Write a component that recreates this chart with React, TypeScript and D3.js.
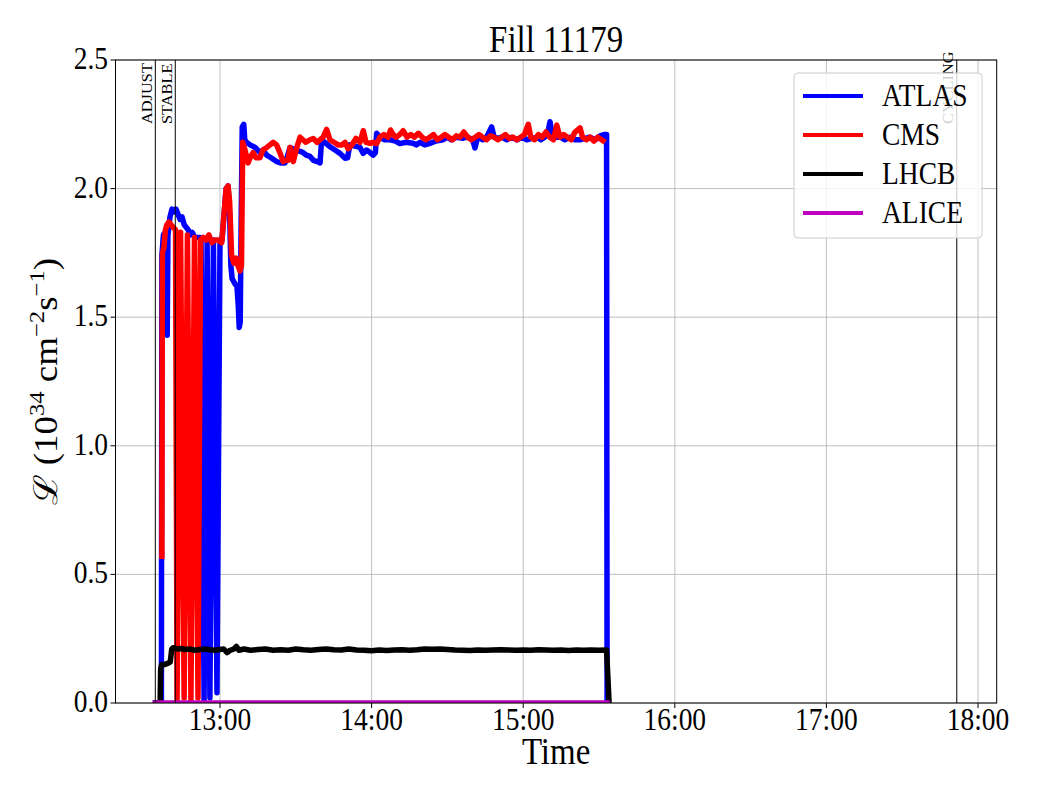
import React from 'react';
import * as d3 from 'd3';

// time in minutes after 12:00, luminosity in 1e34 cm^-2 s^-1
const atlas: [number, number][] = [
  [33.4, 0], [36.8, 0], [37.0, 1.74], [37.6, 1.82], [38.3, 1.83], [38.8, 1.6], [39.1, 1.43], [39.4, 1.82],
  [40.2, 1.89], [41.0, 1.92], [41.8, 1.91], [42.6, 1.92], [43.4, 1.9], [44.2, 1.88], [45.0, 1.89], [45.8, 1.86],
  [46.6, 1.85], [47.4, 1.84], [48.2, 1.82], [49.0, 1.83], [50.0, 1.81], [51.0, 1.81], [52.1, 1.81], [52.5, 1.8],
  [53.7, 0.01], [54.9, 1.8], [56.0, 0.02], [57.4, 1.8], [58.8, 0.04], [60.0, 1.8], [60.8, 1.8], [61.6, 1.9],
  [62.4, 2.0], [63.2, 2.01],
  [63.8, 1.9], [64.3, 1.7], [64.8, 1.65], [65.9, 1.63], [66.7, 1.62], [67.2, 1.55], [67.6, 1.46], [68.0, 1.48],
  [68.4, 1.9], [68.8, 2.24], [69.4, 2.25], [69.8, 2.19], [70.5, 2.18], [71.9, 2.17], [73.9, 2.16], [75.8, 2.14],
  [77.0, 2.15], [78.5, 2.13], [80.2, 2.12], [82.4, 2.105], [84.0, 2.1], [85.7, 2.1], [86.5, 2.12], [87.7, 2.16],
  [89.7, 2.15], [91.7, 2.145], [92.8, 2.14], [94.2, 2.13], [95.6, 2.125], [97.0, 2.11], [98.5, 2.105], [99.6, 2.1],
  [100.2, 2.19], [101.5, 2.18], [103.5, 2.163], [105.5, 2.15], [107.5, 2.137], [109.5, 2.118], [110.5, 2.12],
  [111.4, 2.17], [113.4, 2.165], [115.4, 2.16], [116.7, 2.137], [118.0, 2.15], [119.4, 2.14], [120.6, 2.13],
  [121.5, 2.14], [122.0, 2.215], [123.3, 2.2], [125.0, 2.19], [127.3, 2.19], [129.5, 2.185], [131.2, 2.175],
  [133.5, 2.18], [136.4, 2.176], [137.8, 2.17], [139.2, 2.18], [141.0, 2.17], [143.1, 2.176], [145.5, 2.185],
  [148.3, 2.19], [150.0, 2.2], [151.5, 2.19], [153.5, 2.2], [156.2, 2.196], [158.0, 2.2], [160.0, 2.19],
  [160.9, 2.158], [162.0, 2.2], [164.0, 2.19], [165.5, 2.2], [167.5, 2.24], [168.5, 2.2], [170.0, 2.195],
  [171.5, 2.2], [173.5, 2.19], [175.5, 2.2], [177.5, 2.19], [179.5, 2.2], [181.4, 2.19], [183.5, 2.195],
  [185.5, 2.2], [187.0, 2.19], [188.5, 2.2], [190.0, 2.23], [190.6, 2.26], [191.5, 2.21], [193.0, 2.2],
  [194.6, 2.2], [196.5, 2.19], [198.5, 2.2], [200.5, 2.19], [202.5, 2.19], [204.5, 2.195], [206.4, 2.2],
  [208.5, 2.19], [210.4, 2.205], [212.0, 2.21], [213.0, 2.21], [213.2, 0],
];

const cms: [number, number][] = [
  [37.0, 0.56], [37.2, 1.75], [37.8, 1.77], [38.4, 1.84], [39.0, 1.86], [39.8, 1.87], [40.6, 1.86], [41.4, 1.85],
  [42.4, 1.84], [43.0, 0.01], [44.4, 1.83], [45.8, 0.02], [47.1, 1.82], [48.5, 0.01], [49.9, 1.81], [51.3, 0.02],
  [52.3, 1.8], [53.3, 1.81], [54.5, 1.8], [55.6, 1.82], [56.8, 1.79],
  [58.0, 1.8], [59.2, 1.8], [60.7, 1.79], [61.6, 1.9], [62.4, 2.0], [63.2, 2.01], [63.8, 1.95], [64.6, 1.74],
  [65.5, 1.71], [66.3, 1.73], [67.1, 1.7], [67.9, 1.68], [68.5, 1.7], [69.0, 2.18], [69.9, 2.15], [71.1, 2.1],
  [71.9, 2.12], [73.1, 2.14], [74.2, 2.12], [75.8, 2.12], [77.0, 2.15], [78.5, 2.16], [79.8, 2.17], [81.0, 2.18],
  [82.4, 2.17], [83.7, 2.14], [85.0, 2.105], [86.1, 2.11], [87.0, 2.11], [87.7, 2.16], [88.3, 2.14], [89.0, 2.105],
  [90.4, 2.16], [91.7, 2.2], [92.8, 2.19], [94.0, 2.18], [95.6, 2.19], [96.9, 2.195], [98.4, 2.18], [99.6, 2.19],
  [100.8, 2.2], [102.2, 2.23], [103.5, 2.19], [105.1, 2.18], [106.7, 2.17], [108.3, 2.17], [109.5, 2.18],
  [110.7, 2.155], [112.2, 2.17], [113.8, 2.195], [115.4, 2.18], [116.7, 2.225], [117.8, 2.18], [119.4, 2.176],
  [120.6, 2.18], [122.0, 2.175], [123.3, 2.2], [124.9, 2.21], [126.5, 2.2], [127.5, 2.228], [128.5, 2.21],
  [129.7, 2.2], [131.2, 2.21], [132.5, 2.225], [134.0, 2.2], [135.5, 2.21], [137.0, 2.2], [138.5, 2.215],
  [140.0, 2.2], [141.5, 2.19], [143.0, 2.2], [144.5, 2.21], [146.0, 2.19], [147.5, 2.2], [149.0, 2.21],
  [150.5, 2.2], [152.0, 2.19], [153.5, 2.205], [155.0, 2.2], [156.5, 2.22], [158.0, 2.2], [159.5, 2.19],
  [161.0, 2.2], [162.5, 2.21], [164.0, 2.2], [165.5, 2.19], [167.0, 2.205], [168.5, 2.2], [170.0, 2.19],
  [171.5, 2.2], [173.0, 2.21], [174.5, 2.195], [176.0, 2.2], [177.5, 2.19], [179.0, 2.2], [180.5, 2.21],
  [182.0, 2.25], [183.0, 2.2], [184.5, 2.19], [186.0, 2.21], [187.5, 2.2], [189.0, 2.22], [190.5, 2.2],
  [192.0, 2.19], [193.3, 2.247], [194.5, 2.2], [196.0, 2.21], [197.5, 2.2], [199.0, 2.19], [200.5, 2.22],
  [202.5, 2.236], [203.5, 2.2], [205.0, 2.19], [206.5, 2.2], [208.0, 2.185], [209.5, 2.2], [211.0, 2.19],
  [212.5, 2.18],
];

const lhcb: [number, number][] = [
  [33.4, 0], [36.3, 0], [36.5, 0.13], [36.9, 0.15], [38.2, 0.15], [39.5, 0.155], [40.3, 0.16], [40.9, 0.21],
  [41.5, 0.215], [43.0, 0.21], [44.5, 0.212], [46.0, 0.208], [48.0, 0.21], [50.0, 0.205], [52.0, 0.208],
  [54.0, 0.21], [56.0, 0.207], [58.0, 0.205], [60.0, 0.208], [61.5, 0.21], [62.8, 0.196], [64.0, 0.205],
  [65.5, 0.21], [66.5, 0.22], [67.5, 0.205], [69.5, 0.21], [72.0, 0.205], [75.0, 0.208], [78.0, 0.21],
  [81.0, 0.205], [84.0, 0.207], [87.0, 0.205], [90.0, 0.21], [93.0, 0.207], [96.0, 0.205], [99.0, 0.208],
  [102.0, 0.21], [105.0, 0.207], [108.0, 0.206], [111.0, 0.21], [114.0, 0.206], [117.0, 0.205], [120.0, 0.203],
  [123.0, 0.206], [126.0, 0.204], [129.0, 0.206], [132.0, 0.207], [135.0, 0.205], [138.0, 0.207], [141.0, 0.21],
  [144.0, 0.209], [147.0, 0.21], [150.0, 0.208], [153.0, 0.206], [156.0, 0.205], [159.0, 0.204], [162.0, 0.206],
  [165.0, 0.205], [168.0, 0.206], [171.0, 0.207], [174.0, 0.206], [177.0, 0.205], [180.0, 0.206], [183.0, 0.205],
  [186.0, 0.207], [189.0, 0.206], [192.0, 0.205], [195.0, 0.206], [198.0, 0.204], [201.0, 0.206], [204.0, 0.205],
  [207.0, 0.206], [210.0, 0.205], [213.0, 0.206], [214.0, 0],
];

const alice: [number, number][] = [[33.4, 0], [120.0, 0], [214.3, 0]];

const seriesNames = ['ATLAS', 'CMS', 'LHCB', 'ALICE'];
const seriesColors = ['#0000ff', '#ff0000', '#000000', '#bf00bf'];

// beam mode changes (minutes after 12:00)
const modeNames = ['ADJUST', 'STABLE', 'CYCLING'];
const modeTimes = [34.4, 42.3, 351.6];

const xTickHours = [13, 14, 15, 16, 17, 18];
const yTicks = [0, 0.5, 1.0, 1.5, 2.0, 2.5];

const W = 1040, H = 800;
const m = { left: 115.5, right: 996.7, top: 60, bottom: 703 };
const S = 1.12; // vertical stretch of the reference's lettering
const FONT = '"Liberation Serif", "Times New Roman", serif';

const day = (min: number) => new Date(2024, 0, 1, 12, 0, 0, Math.round(min * 60000));

const Txt = ({ x, y, size, anchor = 'start', rotate = 0, fill = '#000', children }: any) => (
  <text
    transform={`translate(${x},${y}) scale(1,${S})${rotate ? ` rotate(${rotate})` : ''}`}
    fontSize={size} textAnchor={anchor} fill={fill} fontFamily={FONT}>
    {children}
  </text>
);

export default function App() {
  const x = d3.scaleTime().domain([day(18.64), day(367.4)]).range([m.left, m.right]);
  const y = d3.scaleLinear().domain([0, 2.5]).range([m.bottom, m.top]);
  const line = d3.line<[number, number]>().x(d => x(day(d[0]))).y(d => y(d[1]));
  const data = [atlas, cms, lhcb, alice];

  return (
    <div style={{ position: 'fixed', left: 0, top: 0 }}>
      <svg width={W} height={H} style={{ display: 'block', background: '#fff' }}>
        <defs>
          <clipPath id="plot">
            <rect x={m.left} y={m.top} width={m.right - m.left} height={m.bottom - m.top} />
          </clipPath>
        </defs>

        {/* grid */}
        {xTickHours.map(h => (
          <line key={'gx' + h} x1={x(day(h * 60 - 720))} x2={x(day(h * 60 - 720))} y1={m.top} y2={m.bottom}
            stroke="#b0b0b0" strokeWidth={0.8} />
        ))}
        {yTicks.map(t => (
          <line key={'gy' + t} x1={m.left} x2={m.right} y1={y(t)} y2={y(t)} stroke="#b0b0b0" strokeWidth={0.8} />
        ))}

        {/* series */}
        <g clipPath="url(#plot)">
          {data.map((d, i) => (
            <path key={seriesNames[i]} d={line(d) || ''} fill="none" stroke={seriesColors[i]}
              strokeWidth={5.5} strokeLinejoin="round" />
          ))}
        </g>

        {/* beam mode markers */}
        {modeTimes.map((t, i) => (
          <g key={modeNames[i]}>
            <line x1={x(day(t))} x2={x(day(t))} y1={m.top} y2={m.bottom} stroke="#000" strokeWidth={1} />
            <Txt x={x(day(t)) - 3.5} y={124} size={14.6} rotate={-90}>{modeNames[i]}</Txt>
          </g>
        ))}

        {/* axes */}
        <rect x={m.left} y={m.top} width={m.right - m.left} height={m.bottom - m.top} fill="none"
          stroke="#000" strokeWidth={1} />
        {xTickHours.map(h => {
          const px = x(day(h * 60 - 720));
          return (
            <g key={'tx' + h}>
              <line x1={px} x2={px} y1={m.bottom} y2={m.bottom + 5} stroke="#000" />
              <Txt x={px} y={730} size={27.5} anchor="middle">{`${h}:00`}</Txt>
            </g>
          );
        })}
        {yTicks.map(t => (
          <g key={'ty' + t}>
            <line x1={m.left - 5} x2={m.left} y1={y(t)} y2={y(t)} stroke="#000" />
            <Txt x={108} y={y(t) + 9} size={27.5} anchor="end">{d3.format('.1f')(t)}</Txt>
          </g>
        ))}

        <Txt x={(m.left + m.right) / 2} y={52} size={33} anchor="middle">Fill 11179</Txt>
        <Txt x={(m.left + m.right) / 2} y={764} size={33} anchor="middle">Time</Txt>
        <Txt x={57} y={(m.top + m.bottom) / 2} size={33} anchor="middle" rotate={-90}>
          <tspan fontFamily='"DejaVu Serif", serif'>ℒ</tspan>
          <tspan> (10</tspan>
          <tspan fontSize={22} dy={-13}>34</tspan>
          <tspan dy={13}> cm</tspan>
          <tspan fontSize={22} dy={-13}>−2</tspan>
          <tspan dy={13}>s</tspan>
          <tspan fontSize={22} dy={-13}>−1</tspan>
          <tspan dy={13}>)</tspan>
        </Txt>

        {/* legend */}
        <g>
          <rect x={794} y={73} width={188} height={165} rx={4} fill="#fff" fillOpacity={0.8}
            stroke="#cccccc" strokeWidth={1} />
          {seriesNames.map((n, i) => (
            <g key={'lg' + n}>
              <line x1={803} x2={863} y1={96 + i * 39} y2={96 + i * 39} stroke={seriesColors[i]} strokeWidth={4} />
              <Txt x={882} y={96 + i * 39 + 10} size={27.5}>{n}</Txt>
            </g>
          ))}
        </g>
      </svg>
    </div>
  );
}
